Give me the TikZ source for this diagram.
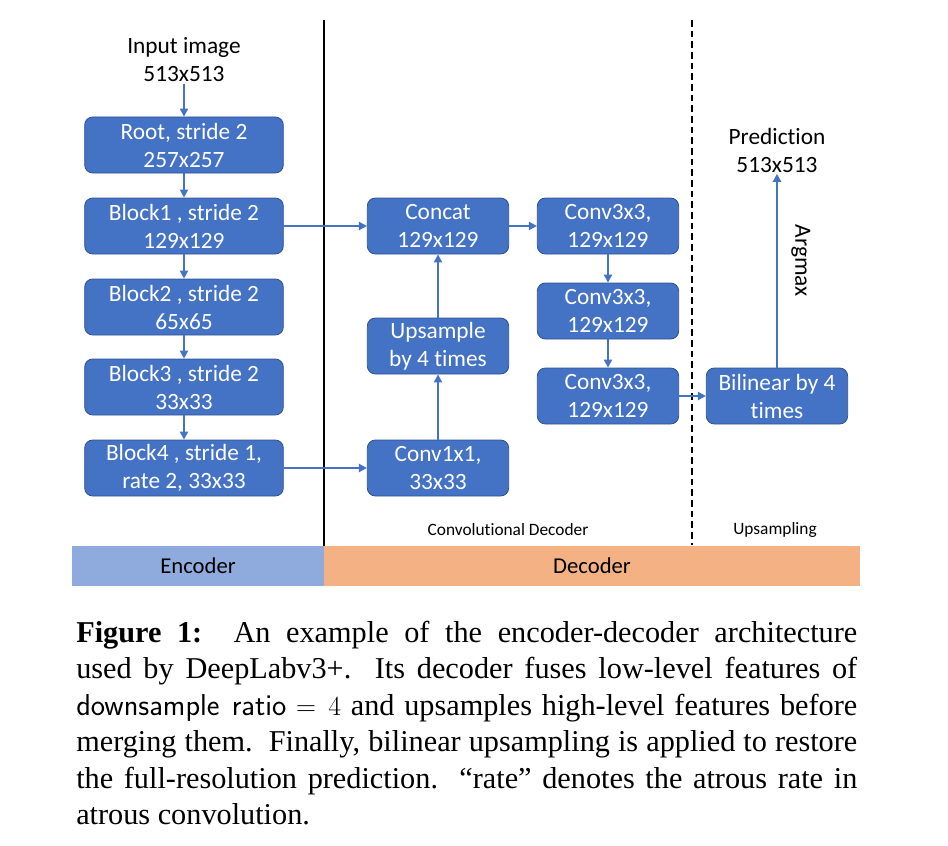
\documentclass[tikz,border=0pt]{standalone}
\usepackage{fontspec}
\setmainfont{Liberation Serif}
\newfontfamily\calfont[Ligatures=NoCommon]{Carlito}
\usetikzlibrary{arrows.meta}
\definecolor{boxblue}{HTML}{4472C4}
\definecolor{boxborder}{HTML}{2F528F}
\definecolor{encblue}{HTML}{8FAADC}
\definecolor{decorange}{HTML}{F4B183}
\newcommand{\nolig}{\kern0pt}
\begin{document}
\begin{tikzpicture}[x=0.75pt,y=-0.75pt,
  blk/.style={draw=boxborder, fill=boxblue, rounded corners=6pt, line width=0.6pt,
    minimum width=149pt, minimum height=42pt, inner sep=0pt, text=white,
    align=center, font=\calfont\fontsize{17.5}{21}\selectfont},
  dblk/.style={blk, minimum width=106pt},
  plain/.style={align=center, inner sep=1pt, font=\calfont\fontsize{17.5}{21}\selectfont},
  small/.style={inner sep=0pt, font=\calfont\fontsize{13}{15}\selectfont},
  barlab/.style={inner sep=0pt, font=\calfont\fontsize{17}{20}\selectfont},
  arr/.style={draw=boxblue, line width=1.5pt, -{Triangle[length=6pt,width=6pt]}}]
\useasboundingbox (0,0) rectangle (948,845);

% separators
\draw[line width=0.8pt] (324,20) -- (324,586);
\draw[line width=0.8pt, dash pattern=on 5pt off 3pt] (692,20) -- (692,545);

% bottom bars
\fill[encblue] (72,546) rectangle (324,586);
\fill[decorange] (324,546) rectangle (860,586);
\node[barlab] (enc) at (198,566) {Encoder};
\node[barlab] (dec) at (592,566) {Decoder};
\node[small] (cdl) at (508,530) {Convolut\nolig ional Decoder};
\node[small] (upl) at (775,530) {Upsampling};

% encoder
\node[plain] (inp) at (184,60) {Input image\\513x513};
\node[blk] (root) at (184,145) {Root, stride 2\\257x257};
\node[blk] (b1) at (184,226) {Block1 , stride 2\\129x129};
\node[blk] (b2) at (184,307) {Block2 , stride 2\\65x65};
\node[blk] (b3) at (184,387) {Block3 , stride 2\\33x33};
\node[blk] (b4) at (184,468) {Block4 , stride 1,\\rate 2, 33x33};

% decoder
\node[dblk] (concat) at (438,226) {Concat\\129x129};
\node[dblk] (ups) at (438,346) {Upsample\\by 4 times};
\node[dblk] (c11) at (438,468) {Conv1x1,\\33x33};
\node[dblk] (c31) at (608,226) {Conv3x3,\\129x129};
\node[dblk] (c32) at (608,311) {Conv3x3,\\129x129};
\node[dblk] (c33) at (608,396) {Conv3x3,\\129x129};
\node[dblk] (bil) at (777,396) {Bilinear by 4\\times};
\node[plain] (pred) at (777,150) {Predict\nolig ion\\513x513};

% arrows
\draw[arr] (inp) -- (root);
\draw[arr] (root) -- (b1);
\draw[arr] (b1) -- (b2);
\draw[arr] (b2) -- (b3);
\draw[arr] (b3) -- (b4);
\draw[arr] (b1) -- (concat);
\draw[arr] (b4) -- (c11);
\draw[arr] (c11) -- (ups);
\draw[arr] (ups) -- (concat);
\draw[arr] (concat) -- (c31);
\draw[arr] (c31) -- (c32);
\draw[arr] (c32) -- (c33);
\draw[arr] (c33) -- (bil);
\draw[arr] (bil) -- node[plain, rotate=-90, anchor=south, pos=0.55, yshift=9pt] (argmax) {Argmax} (pred);

% caption
\node[anchor=north west, inner sep=0pt, text width=585.75pt, align=justify,
  font=\fontsize{22.7}{27.3}\selectfont] (cap) at (76,621)
{\textbf{Figure 1:}\ \ An example of the encoder-decoder architecture\linebreak
used by DeepLabv3+.\ \ Its decoder fuses low-level features of\linebreak
\textsf{downsample ratio} $=4$ and upsamples high-level features before\linebreak
merging them.\ \ Finally, bilinear upsampling is applied to restore\linebreak
the full-resolution prediction.\ \ ``rate'' denotes the atrous rate in\linebreak
atrous convolution.};
\end{tikzpicture}
\end{document}
